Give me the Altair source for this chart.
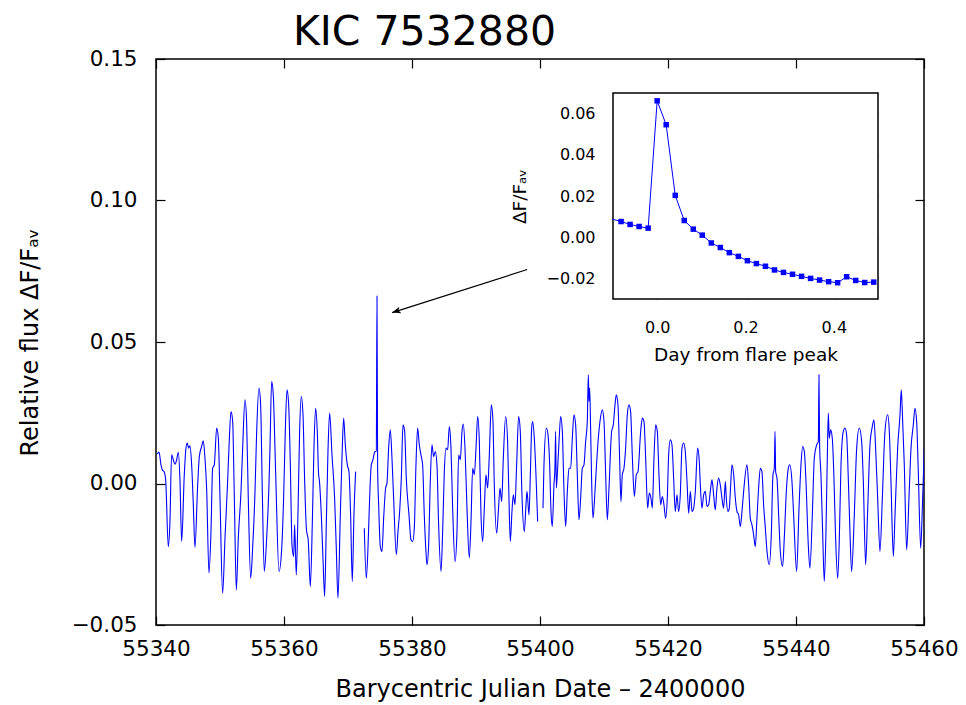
import altair as alt
import pandas as pd

FONT = "DejaVu Sans"
BLUE = "#0000ff"
TITLE = "KIC 7532880"

# ---------------- main light curve (BJD-2400000, relative flux) ----------------
seg_a = [
    (55340.20, 0.0104), (55340.47, 0.0111), (55340.78, 0.0066), (55340.99, 0.0048), (55341.25, 0.0042),
    (55341.51, 0.0013), (55341.92, -0.0223), (55342.18, -0.0134), (55342.44, 0.0101), (55342.70, 0.0084),
    (55342.97, 0.0068), (55343.23, 0.0084), (55343.49, 0.0110), (55343.75, 0.0007), (55344.01, -0.0205),
    (55344.42, 0.0031), (55344.68, 0.0125), (55344.89, 0.0143), (55345.10, 0.0125), (55345.31, 0.0133),
    (55345.57, 0.0066), (55345.83, -0.0075), (55346.09, -0.0226), (55346.51, -0.0005), (55346.77, 0.0095),
    (55347.13, 0.0131), (55347.39, 0.0151), (55347.65, 0.0090), (55347.91, -0.0016), (55348.28, -0.0317),
    (55348.59, -0.0170), (55348.85, 0.0054), (55349.11, 0.0066), (55349.48, 0.0196), (55349.74, 0.0160),
    (55350.00, -0.0052), (55350.41, -0.0388), (55350.78, -0.0193), (55351.19, 0.0007), (55351.40, 0.0125),
    (55351.72, 0.0254), (55351.98, 0.0219), (55352.24, -0.0052), (55352.55, -0.0376), (55352.86, -0.0193),
    (55353.28, -0.0028), (55353.54, 0.0125), (55353.90, 0.0296), (55354.16, 0.0219), (55354.42, -0.0052),
    (55354.79, -0.0335), (55355.10, -0.0229), (55355.47, -0.0028), (55355.73, 0.0184), (55356.09, 0.0337),
    (55356.35, 0.0278), (55356.61, -0.0028), (55356.92, -0.0311), (55357.29, -0.0193), (55357.65, -0.0005),
    (55357.81, 0.0125), (55358.07, 0.0360), (55358.33, 0.0313), (55358.69, 0.0042), (55359.22, -0.0311),
    (55359.63, -0.0234), (55359.94, -0.0052), (55360.20, 0.0184), (55360.47, 0.0331), (55360.73, 0.0278),
    (55360.99, 0.0066), (55361.25, -0.0217), (55361.51, -0.0258), (55361.66, -0.0146), (55361.92, -0.0323),
    (55362.18, -0.0111), (55362.44, 0.0184), (55362.70, 0.0307), (55362.97, 0.0243), (55363.23, 0.0007),
    (55363.49, -0.0158), (55363.80, -0.0205), (55364.11, -0.0364), (55364.42, -0.0146), (55364.68, 0.0125),
    (55364.94, 0.0266), (55365.20, 0.0184), (55365.41, 0.0031), (55365.52, 0.0013), (55365.83, -0.0111),
    (55366.09, -0.0264), (55366.35, -0.0399), (55366.61, -0.0146), (55366.87, 0.0113), (55367.13, 0.0249),
    (55367.50, 0.0101), (55367.91, -0.0052), (55368.17, -0.0229), (55368.43, -0.0405), (55368.80, -0.0111),
    (55369.06, 0.0090), (55369.32, 0.0231), (55369.58, 0.0137), (55369.89, 0.0066), (55370.15, 0.0042),
    (55370.41, -0.0111), (55370.67, -0.0346), (55370.93, -0.0111), (55371.19, 0.0042),
]
seg_b = [
    (55372.55, -0.0158), (55372.86, -0.0335), (55373.12, -0.0229), (55373.38, -0.0052), (55373.64, 0.0066),
    (55373.90, 0.0084), (55374.16, 0.0111), (55374.42, 0.0115), (55374.53, 0.0662), (55374.63, 0.0054),
    (55374.79, -0.0075), (55375.05, -0.0223), (55375.31, -0.0240), (55375.57, -0.0123), (55375.88, -0.0016),
    (55376.09, 0.0001), (55376.35, 0.0125), (55376.61, 0.0190), (55376.87, 0.0090), (55377.13, -0.0052),
    (55377.55, -0.0252), (55377.81, -0.0170), (55378.07, -0.0099), (55378.33, 0.0019), (55378.59, 0.0207),
    (55378.85, 0.0184), (55379.11, 0.0019), (55379.53, -0.0111), (55379.84, -0.0199), (55380.10, -0.0205),
    (55380.36, -0.0158), (55380.62, 0.0066), (55380.88, 0.0196), (55381.14, 0.0137), (55381.40, 0.0101),
    (55381.66, 0.0066), (55381.92, -0.0111), (55382.18, -0.0240), (55382.34, -0.0287), (55382.60, -0.0217),
    (55382.86, 0.0007), (55383.12, 0.0137), (55383.38, 0.0095), (55383.64, 0.0113), (55383.90, 0.0066),
    (55384.16, -0.0146), (55384.53, -0.0311), (55384.79, -0.0170), (55385.05, 0.0042), (55385.31, 0.0125),
    (55385.57, 0.0119), (55385.83, 0.0201), (55386.09, 0.0125), (55386.35, -0.0087), (55386.72, -0.0276),
    (55387.03, -0.0170), (55387.29, 0.0101), (55387.55, 0.0084), (55387.81, 0.0184), (55388.02, 0.0210),
    (55388.28, 0.0125), (55388.59, -0.0087), (55388.95, -0.0262), (55389.22, -0.0134), (55389.48, 0.0054),
    (55389.74, 0.0031), (55390.00, 0.0125), (55390.26, 0.0237), (55390.52, 0.0148), (55390.78, -0.0111),
    (55391.04, -0.0205), (55391.30, -0.0087), (55391.56, 0.0031), (55391.82, -0.0016), (55392.08, 0.0101),
    (55392.39, 0.0278), (55392.65, 0.0219), (55392.86, -0.0005), (55393.23, -0.0176), (55393.49, -0.0099),
    (55393.75, -0.0016), (55394.01, -0.0064), (55394.27, 0.0090), (55394.63, 0.0237), (55394.94, 0.0148),
    (55395.15, -0.0052), (55395.36, -0.0205), (55395.62, -0.0099), (55395.83, -0.0040), (55396.09, -0.0075),
    (55396.35, 0.0066), (55396.66, 0.0237), (55396.92, 0.0184), (55397.18, -0.0040), (55397.55, -0.0170),
    (55397.81, -0.0075), (55397.97, -0.0028), (55398.28, -0.0111), (55398.49, 0.0031), (55398.70, 0.0196),
    (55398.85, 0.0219), (55399.11, 0.0160), (55399.37, 0.0031), (55399.63, -0.0134),
]
seg_c = [
    (55400.47, -0.0087), (55400.62, 0.0066), (55400.99, 0.0196), (55401.25, 0.0172), (55401.51, 0.0066),
    (55401.72, -0.0099), (55401.92, -0.0152), (55402.18, -0.0005), (55402.34, 0.0060), (55402.44, 0.0184),
    (55402.55, -0.0016), (55402.70, 0.0031), (55402.97, 0.0148), (55403.23, 0.0237), (55403.49, 0.0184),
    (55403.75, -0.0028), (55404.01, -0.0152), (55404.27, -0.0028), (55404.53, 0.0054), (55404.79, 0.0054),
    (55405.05, 0.0160), (55405.31, 0.0243), (55405.57, 0.0207), (55405.83, 0.0031), (55406.09, -0.0128),
    (55406.35, -0.0052), (55406.61, 0.0054), (55406.87, 0.0066), (55407.13, 0.0148), (55407.39, 0.0219),
    (55407.55, 0.0384), (55407.65, 0.0290), (55407.76, 0.0337), (55407.91, 0.0196), (55408.07, 0.0007),
    (55408.28, -0.0123), (55408.59, -0.0028), (55408.80, 0.0054), (55409.11, 0.0160), (55409.37, 0.0219),
    (55409.74, 0.0260), (55410.00, 0.0219), (55410.26, 0.0031), (55410.52, -0.0128), (55410.78, -0.0016),
    (55411.19, 0.0184), (55411.45, 0.0207), (55411.72, 0.0278), (55411.92, 0.0313), (55412.18, 0.0278),
    (55412.44, 0.0090), (55412.65, -0.0064), (55412.86, 0.0031), (55413.12, 0.0054), (55413.38, 0.0125),
    (55413.64, 0.0243), (55413.90, 0.0278), (55414.16, 0.0254), (55414.42, 0.0101), (55414.74, -0.0046),
    (55415.05, 0.0031), (55415.31, 0.0042), (55415.73, 0.0184), (55415.99, 0.0231), (55416.25, 0.0219),
    (55416.51, 0.0090), (55416.82, -0.0087), (55417.08, -0.0034), (55417.34, -0.0052), (55417.55, -0.0087),
    (55417.81, 0.0090), (55418.07, 0.0207), (55418.33, 0.0184), (55418.59, 0.0031), (55418.85, -0.0075),
    (55419.11, -0.0046), (55419.37, -0.0075), (55419.63, -0.0123), (55419.89, -0.0052), (55420.10, 0.0101),
    (55420.36, 0.0154), (55420.62, 0.0137), (55420.88, 0.0019), (55421.14, -0.0099), (55421.40, -0.0040),
    (55421.66, -0.0099), (55421.92, -0.0040), (55422.18, 0.0125), (55422.44, 0.0143), (55422.70, 0.0113),
    (55422.97, 0.0007), (55423.23, -0.0105), (55423.49, -0.0028), (55423.75, -0.0099), (55424.01, -0.0087),
    (55424.27, -0.0028), (55424.63, 0.0125), (55424.89, 0.0078), (55425.05, -0.0005), (55425.31, -0.0087),
    (55425.57, -0.0040), (55425.83, -0.0028), (55426.09, -0.0081), (55426.35, -0.0075), (55426.61, -0.0028),
    (55426.87, 0.0013), (55427.13, -0.0040), (55427.39, -0.0093), (55427.65, -0.0016), (55427.91, 0.0019),
    (55428.17, -0.0005), (55428.43, -0.0052), (55428.69, -0.0087), (55428.96, 0.0007), (55429.11, -0.0052),
    (55429.37, -0.0099), (55429.58, -0.0087), (55429.74, -0.0028), (55430.00, 0.0066), (55430.26, 0.0031),
    (55430.52, -0.0052), (55430.78, -0.0099), (55431.04, -0.0111), (55431.30, -0.0152), (55431.56, -0.0099),
    (55431.82, -0.0028), (55432.34, 0.0066), (55432.60, -0.0005), (55432.86, -0.0123), (55433.12, -0.0146),
    (55433.38, -0.0181), (55433.64, -0.0223), (55433.90, -0.0123), (55434.16, -0.0016), (55434.42, 0.0054),
    (55434.68, 0.0042), (55434.94, -0.0075), (55435.21, -0.0158), (55435.47, -0.0240), (55435.83, -0.0287),
    (55436.14, -0.0181), (55436.40, 0.0031), (55436.61, 0.0054), (55436.72, 0.0184), (55436.82, 0.0042),
    (55437.03, 0.0019), (55437.29, -0.0111), (55437.55, -0.0240), (55437.91, -0.0293), (55438.17, -0.0193),
    (55438.49, -0.0028), (55438.80, 0.0054), (55439.01, 0.0066), (55439.37, 0.0007), (55439.63, -0.0111),
    (55440.10, -0.0311), (55440.47, -0.0087), (55440.78, 0.0066), (55441.04, 0.0131), (55441.30, 0.0113),
    (55441.56, 0.0007), (55441.92, -0.0217), (55442.18, -0.0299), (55442.55, -0.0111), (55442.86, 0.0090),
    (55443.23, 0.0137), (55443.49, 0.0148), (55443.59, 0.0384), (55443.69, 0.0137), (55443.90, 0.0031),
    (55444.16, -0.0170), (55444.42, -0.0346), (55444.68, -0.0170), (55444.89, 0.0090), (55445.05, 0.0249),
    (55445.20, 0.0160), (55445.41, 0.0190), (55445.67, 0.0160), (55445.93, 0.0019), (55446.19, -0.0193),
    (55446.51, -0.0335), (55446.77, -0.0193), (55447.03, 0.0066), (55447.39, 0.0184), (55447.65, 0.0196),
    (55447.91, 0.0172), (55448.17, 0.0019), (55448.43, -0.0170), (55448.69, -0.0311), (55449.11, -0.0111),
    (55449.48, 0.0125), (55449.89, 0.0196), (55450.26, 0.0148), (55450.52, 0.0007), (55450.88, -0.0287),
    (55451.19, -0.0099), (55451.56, 0.0137), (55451.92, 0.0201), (55452.18, 0.0225), (55452.44, 0.0125),
    (55452.76, -0.0052), (55453.12, -0.0240), (55453.49, -0.0052), (55453.90, 0.0184), (55454.32, 0.0243),
    (55454.58, 0.0184), (55454.84, 0.0007), (55455.21, -0.0258), (55455.47, -0.0111), (55455.88, 0.0125),
    (55456.25, 0.0243), (55456.45, 0.0331), (55456.61, 0.0254), (55456.92, 0.0066), (55457.29, -0.0234),
    (55457.65, -0.0052), (55457.97, 0.0125), (55458.33, 0.0207), (55458.59, 0.0266), (55458.85, 0.0219),
    (55459.11, 0.0042), (55459.48, -0.0229), (55459.79, -0.0052), (55460.05, 0.0125),
]

# ---------------- inset: flare profile ----------------
inset_day = [-0.1021, -0.0817, -0.0613, -0.0409, -0.0204, 0.0000, 0.0204, 0.0409, 0.0613, 0.0817,
             0.1021, 0.1226, 0.1430, 0.1634, 0.1839, 0.2043, 0.2247, 0.2452, 0.2656, 0.2860,
             0.3064, 0.3269, 0.3473, 0.3677, 0.3882, 0.4086, 0.4290, 0.4495, 0.4699, 0.4903]
inset_flux = [0.0088, 0.0076, 0.0062, 0.0052, 0.0044, 0.0662, 0.0546, 0.0203, 0.0081, 0.0039,
              0.0010, -0.0028, -0.0050, -0.0075, -0.0093, -0.0114, -0.0128, -0.0141, -0.0159, -0.0171,
              -0.0180, -0.0190, -0.0200, -0.0208, -0.0216, -0.0221, -0.0192, -0.0210, -0.0220, -0.0218]

# arrow from inset to the flare (data coords of the main panel)
arrow_tail = (55398.0, 0.0756)
arrow_tip = (55376.9, 0.0604)

main_x_ticks = [55340, 55360, 55380, 55400, 55420, 55440, 55460]
main_y_ticks = [-0.05, 0.0, 0.05, 0.10, 0.15]
inset_x_ticks = [0.0, 0.2, 0.4]
inset_y_ticks = [-0.02, 0.0, 0.02, 0.04, 0.06]

# ---------------- geometry ----------------
W, H = 768, 566
T_MAIN = 9
IN_L, IN_R, IN_T, IN_B = 457, 722, 34, 240
T_IN = 7

rows = []
for name, seg in (("a", seg_a), ("b", seg_b), ("c", seg_c)):
    for t, f in seg:
        rows.append({"t": t, "f": f, "seg": name})
main_df = pd.DataFrame(rows)
inset_df = pd.DataFrame({"day": inset_day, "flux": inset_flux})
arrow_df = pd.DataFrame({"t0": [arrow_tail[0]], "f0": [arrow_tail[1]],
                         "t1": [arrow_tip[0]], "f1": [arrow_tip[1]]})
dummy_main = pd.DataFrame({"t": [55400.0], "f": [0.0]})
dummy_inset = pd.DataFrame({"day": [0.2], "flux": [0.0]})
title_df = pd.DataFrame({"label": [TITLE]})

xs = alt.Scale(domain=[55340, 55460], nice=False, zero=False)
ys = alt.Scale(domain=[-0.05, 0.15], nice=False, zero=False)
ixs = alt.Scale(domain=[-0.1, 0.5], range=[IN_L, IN_R], nice=False, zero=False)
iys = alt.Scale(domain=[-0.03, 0.07], range=[IN_B, IN_T], nice=False, zero=False)

common = dict(domain=False, grid=False, tickColor="black", tickWidth=1.2,
              labelColor="black", titleColor="black", labelFont=FONT, titleFont=FONT,
              titleFontWeight="normal", labelFlush=False, labelOverlap=False)

ax_bottom = alt.Axis(orient="bottom", offset=-T_MAIN, tickSize=T_MAIN, values=main_x_ticks, format="d",
                     labelFontSize=21.5, labelPadding=13,
                     title="Barycentric Julian Date \u2013 2400000", titleFontSize=24, titlePadding=18,
                     **common)
ax_left = alt.Axis(orient="left", offset=-T_MAIN, tickSize=T_MAIN, values=main_y_ticks, format=".2f",
                   labelFontSize=21.5, labelPadding=19,
                   title="Relative flux \u0394F/F\u2090\u1d65", titleFontSize=24, titlePadding=29,
                   **common)
ax_top = alt.Axis(orient="top", offset=-T_MAIN, tickSize=T_MAIN, values=main_x_ticks, labels=False,
                  title=None, **common)
ax_right = alt.Axis(orient="right", offset=-T_MAIN, tickSize=T_MAIN, values=main_y_ticks, labels=False,
                    title=None, **common)

iax_bottom = alt.Axis(orient="bottom", offset=-(H - IN_B) - T_IN, tickSize=T_IN, values=inset_x_ticks,
                      format=".1f", labelFontSize=16, labelPadding=20,
                      title="Day from flare peak", titleFontSize=18.5, titlePadding=10, **common)
iax_left = alt.Axis(orient="left", offset=-IN_L - T_IN, tickSize=T_IN, values=inset_y_ticks,
                    format=".2f", labelFontSize=16, labelPadding=18,
                    title="\u0394F/F\u2090\u1d65", titleFontSize=18.5, titlePadding=16, **common)
iax_top = alt.Axis(orient="top", offset=-IN_T - T_IN, tickSize=T_IN, values=inset_x_ticks,
                   labels=False, title=None, **common)
iax_right = alt.Axis(orient="right", offset=-(W - IN_R) - T_IN, tickSize=T_IN, values=inset_y_ticks,
                     labels=False, title=None, **common)

main_line = alt.Chart(main_df).mark_line(color=BLUE, strokeWidth=1.1, interpolate="monotone", clip=True).encode(
    x=alt.X("t:Q", scale=xs, axis=ax_bottom),
    y=alt.Y("f:Q", scale=ys, axis=ax_left),
    detail="seg:N",
)
arrow_line = alt.Chart(arrow_df).mark_rule(color="black", strokeWidth=1.2).encode(
    x=alt.X("t0:Q", scale=xs, axis=ax_bottom), x2="t1:Q",
    y=alt.Y("f0:Q", scale=ys, axis=ax_left), y2="f1:Q",
)
arrow_head = alt.Chart(arrow_df).mark_point(
    shape="M0,0 L1,-0.4 L0.75,0 L1,0.4 Z", size=300, filled=True, color="black", opacity=1, angle=342.3
).encode(
    x=alt.X("t1:Q", scale=xs, axis=ax_bottom),
    y=alt.Y("f1:Q", scale=ys, axis=ax_left),
)
main_layer = alt.layer(main_line, arrow_line, arrow_head)

main_frame = alt.Chart(dummy_main).mark_point(opacity=0).encode(
    x=alt.X("t:Q", scale=xs, axis=ax_top),
    y=alt.Y("f:Q", scale=ys, axis=ax_right),
)

inset_box = alt.Chart(dummy_inset).mark_rect(fill="white", stroke="black", strokeWidth=1.5).encode(
    x=alt.X("x0:Q", scale=ixs, axis=iax_bottom), x2="x1:Q",
    y=alt.Y("y0:Q", scale=iys, axis=iax_left), y2="y1:Q",
).transform_calculate(x0="-0.1", x1="0.5", y0="-0.03", y1="0.07")
inset_line = alt.Chart(inset_df).mark_line(color=BLUE, strokeWidth=1, clip=True).encode(
    x=alt.X("day:Q", scale=ixs, axis=iax_bottom),
    y=alt.Y("flux:Q", scale=iys, axis=iax_left),
)
inset_pts = alt.Chart(inset_df).transform_filter(alt.datum.day >= -0.1).mark_point(
    shape="square", size=30, filled=True, color=BLUE, opacity=1
).encode(
    x=alt.X("day:Q", scale=ixs, axis=iax_bottom),
    y=alt.Y("flux:Q", scale=iys, axis=iax_left),
)
inset_layer = alt.layer(inset_box, inset_line, inset_pts)

inset_frame = alt.Chart(dummy_inset).mark_point(opacity=0).encode(
    x=alt.X("day:Q", scale=ixs, axis=iax_top),
    y=alt.Y("flux:Q", scale=iys, axis=iax_right),
)

# chart title, set above the plot frame and left of centre as in the original
title_text = alt.Chart(title_df).mark_text(
    font=FONT, fontSize=41, align="center", baseline="alphabetic", color="black"
).encode(text="label:N", x=alt.value(268.5), y=alt.value(-14))

chart = alt.layer(main_layer, main_frame, inset_layer, inset_frame, title_text).resolve_scale(
    x="independent", y="independent"
).resolve_axis(
    x="independent", y="independent"
).properties(
    width=W, height=H,
    autosize=alt.AutoSizeParams(type="none"),
    padding={"left": 148, "top": 51, "right": 34, "bottom": 80},
    background="white",
).configure_view(stroke="black", strokeWidth=1.5)

chart.save("out.html", embed_options={"renderer": "svg", "actions": False})
